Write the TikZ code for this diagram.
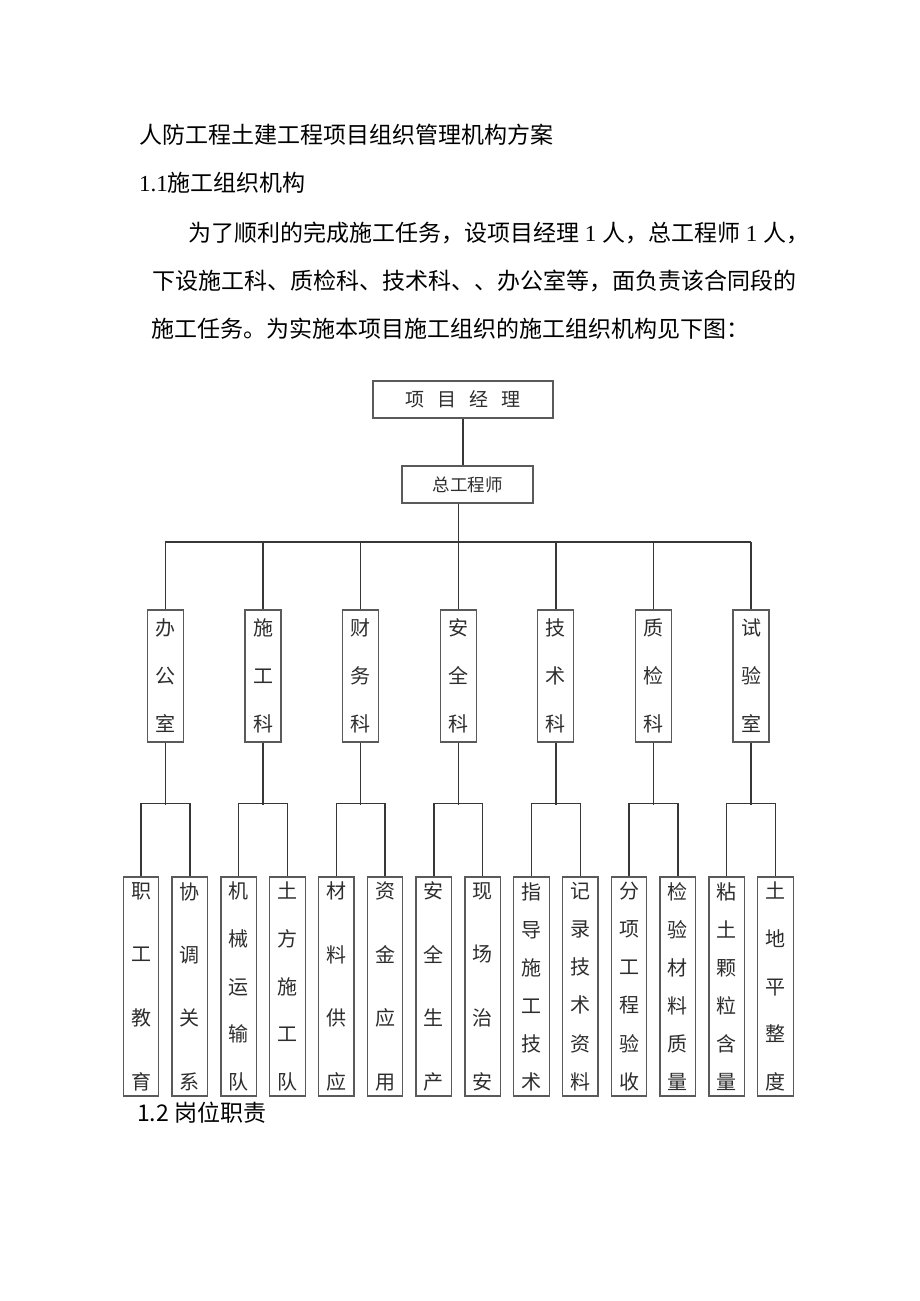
\documentclass[tikz,border=0pt]{standalone}
\usepackage{fontspec}
\setmainfont{Noto Sans CJK SC}
\newfontfamily\latinserif{Liberation Serif}
\definecolor{linecolor}{RGB}{55,55,55}
\definecolor{boxcolor}{RGB}{90,90,90}
\definecolor{chartcolor}{RGB}{45,45,45}
\newcommand{\nx}{\par\vfill}
\newcommand{\stackchars}[2]{\parbox[c][#1][s]{22pt}{\centering #2}}

\begin{document}
\begin{tikzpicture}[
    x=1pt, y=-1pt,
    para/.style={anchor=west, inner sep=0pt, font=\fontsize{23}{23}\selectfont},
    topbox/.style={rectangle, draw=boxcolor, line width=1.3pt, text=chartcolor, minimum height=37pt, inner sep=0pt},
    dept/.style={rectangle, draw=boxcolor, line width=1.3pt, text=chartcolor, minimum width=36pt, minimum height=132pt, inner sep=0pt, font=\fontsize{20}{24}\selectfont},
    task/.style={rectangle, draw=boxcolor, line width=1.3pt, text=chartcolor, minimum width=35.5pt, minimum height=219pt, inner sep=0pt, font=\fontsize{20}{24}\selectfont},
    link/.style={draw=linecolor, line width=1.4pt},
    bus/.style={draw=linecolor, line width=2.2pt}
]
    \useasboundingbox (0,0) rectangle (920,1301);

    \node[para] (title) at (139,135) {人防工程土建工程项目组织管理机构方案};
    \node[para] (sec) at (139,183) {{\latinserif 1.1}施工组织机构};
    \node[para] (intro) at (188,233) {为了顺利的完成施工任务，设项目经理{\latinserif\ 1 }人，总工程师{\latinserif\ 1 }人，};
    \node[para] (introb) at (152,281) {下设施工科、质检科、技术科、、办公室等，面负责该合同段的};
    \node[para] (introc) at (151,329) {施工任务。为实施本项目施工组织的施工组织机构见下图：};

    \node[topbox, minimum width=180pt, font=\fontsize{19}{19}\selectfont] (pm) at (463,399.5) {项\hspace{13pt}目\hspace{13pt}经\hspace{13pt}理};
    \node[topbox, minimum width=131pt, font=\fontsize{17.5}{17.5}\selectfont] (chief) at (467.5,484.5) {总工程师};

    \node[dept] (office) at (165.4,676) {\stackchars{113pt}{办\nx 公\nx 室}};
    \node[dept] (constr) at (263,676) {\stackchars{113pt}{施\nx 工\nx 科}};
    \node[dept] (finance) at (360.6,676) {\stackchars{113pt}{财\nx 务\nx 科}};
    \node[dept] (safety) at (458.2,676) {\stackchars{113pt}{安\nx 全\nx 科}};
    \node[dept] (tech) at (555.8,676) {\stackchars{113pt}{技\nx 术\nx 科}};
    \node[dept] (quality) at (653.4,676) {\stackchars{113pt}{质\nx 检\nx 科}};
    \node[dept] (lab) at (751,676) {\stackchars{113pt}{试\nx 验\nx 室}};

    \node[task] (edu) at (141,986.5) {\stackchars{207pt}{职\nx 工\nx 教\nx 育}};
    \node[task] (coord) at (189.8,986.5) {\stackchars{207pt}{协\nx 调\nx 关\nx 系}};
    \node[task] (mach) at (238.6,986.5) {\stackchars{207pt}{机\nx 械\nx 运\nx 输\nx 队}};
    \node[task] (earth) at (287.4,986.5) {\stackchars{207pt}{土\nx 方\nx 施\nx 工\nx 队}};
    \node[task] (supply) at (336.2,986.5) {\stackchars{207pt}{材\nx 料\nx 供\nx 应}};
    \node[task] (fund) at (385,986.5) {\stackchars{207pt}{资\nx 金\nx 应\nx 用}};
    \node[task] (prod) at (433.8,986.5) {\stackchars{207pt}{安\nx 全\nx 生\nx 产}};
    \node[task] (site) at (482.6,986.5) {\stackchars{207pt}{现\nx 场\nx 治\nx 安}};
    \node[task] (guide) at (531.4,986.5) {\stackchars{207pt}{指\nx 导\nx 施\nx 工\nx 技\nx 术}};
    \node[task] (record) at (580.2,986.5) {\stackchars{207pt}{记\nx 录\nx 技\nx 术\nx 资\nx 料}};
    \node[task] (accept) at (629,986.5) {\stackchars{207pt}{分\nx 项\nx 工\nx 程\nx 验\nx 收}};
    \node[task] (test) at (677.8,986.5) {\stackchars{207pt}{检\nx 验\nx 材\nx 料\nx 质\nx 量}};
    \node[task] (clay) at (726.6,986.5) {\stackchars{207pt}{粘\nx 土\nx 颗\nx 粒\nx 含\nx 量}};
    \node[task] (level) at (775.4,986.5) {\stackchars{207pt}{土\nx 地\nx 平\nx 整\nx 度}};

    \node[para] (next) at (137,1113) {1.2 岗位职责};

    \coordinate (bus) at (458.2,542);

    \draw[link] (pm.south) -- (pm.south |- chief.north);
    \draw[link] (chief.south -| safety) -- (safety.north);
    \draw[bus] (office |- bus) -- (lab |- bus);
    \draw[link] (office |- bus) -- (office.north);
    \draw[link] (constr |- bus) -- (constr.north);
    \draw[link] (finance |- bus) -- (finance.north);
    \draw[link] (tech |- bus) -- (tech.north);
    \draw[link] (quality |- bus) -- (quality.north);
    \draw[link] (lab |- bus) -- (lab.north);

    \draw[link] (office.south) -- ++(0,62);
    \draw[link] (edu.north) -- ++(0,-73) -| (coord.north);
    \draw[link] (constr.south) -- ++(0,62);
    \draw[link] (mach.north) -- ++(0,-73) -| (earth.north);
    \draw[link] (finance.south) -- ++(0,62);
    \draw[link] (supply.north) -- ++(0,-73) -| (fund.north);
    \draw[link] (safety.south) -- ++(0,62);
    \draw[link] (prod.north) -- ++(0,-73) -| (site.north);
    \draw[link] (tech.south) -- ++(0,62);
    \draw[link] (guide.north) -- ++(0,-73) -| (record.north);
    \draw[link] (quality.south) -- ++(0,62);
    \draw[link] (accept.north) -- ++(0,-73) -| (test.north);
    \draw[link] (lab.south) -- ++(0,62);
    \draw[link] (clay.north) -- ++(0,-73) -| (level.north);

\end{tikzpicture}
\end{document}
